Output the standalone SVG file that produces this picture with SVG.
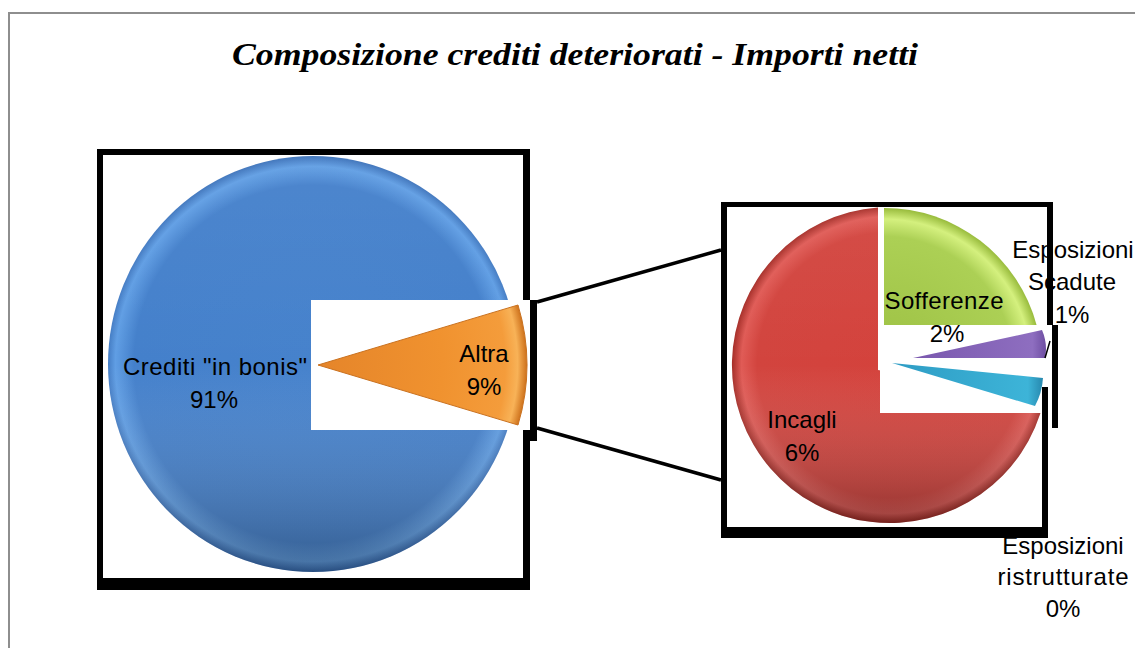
<svg xmlns="http://www.w3.org/2000/svg" width="1135" height="648" viewBox="0 0 1135 648">
<style>
.lbl{font-family:"Liberation Sans",Arial,sans-serif;font-size:24px;fill:#000;text-anchor:middle}
.frm{fill:#000}
.conn{stroke:#000;stroke-width:3.5;fill:none}
</style>
<defs>
<radialGradient id="gBlue" gradientUnits="userSpaceOnUse" cx="313" cy="364" r="208">
<stop offset="0" stop-color="#4682CC"/><stop offset="0.86" stop-color="#4480CB"/><stop offset="0.95" stop-color="#609EE4"/><stop offset="1" stop-color="#3A70B8"/>
</radialGradient>
<radialGradient id="gOrange" gradientUnits="userSpaceOnUse" cx="318" cy="365" r="208">
<stop offset="0" stop-color="#E5852A"/><stop offset="0.6" stop-color="#F0922F"/><stop offset="0.9" stop-color="#F49C3B"/><stop offset="0.96" stop-color="#F8B257"/><stop offset="1" stop-color="#D27822"/>
</radialGradient>
<radialGradient id="gRed" gradientUnits="userSpaceOnUse" cx="890" cy="365" r="158">
<stop offset="0" stop-color="#D4423C"/><stop offset="0.84" stop-color="#D2443E"/><stop offset="0.94" stop-color="#E05B56"/><stop offset="1" stop-color="#A62E28"/>
</radialGradient>
<radialGradient id="gGreen" gradientUnits="userSpaceOnUse" cx="884" cy="366" r="158">
<stop offset="0" stop-color="#9CC043"/><stop offset="0.82" stop-color="#ACD055"/><stop offset="0.93" stop-color="#D4F07E"/><stop offset="1" stop-color="#98BB3C"/>
</radialGradient>
<linearGradient id="gPurple" x1="0" y1="0" x2="1" y2="0">
<stop offset="0" stop-color="#7A58AE"/><stop offset="0.9" stop-color="#8E6EC0"/><stop offset="1" stop-color="#6E4EA2"/>
</linearGradient>
<linearGradient id="gCyan" x1="0" y1="0" x2="1" y2="0">
<stop offset="0" stop-color="#2E9CC4"/><stop offset="0.9" stop-color="#3DB4D8"/><stop offset="1" stop-color="#2788AE"/>
</linearGradient>
<linearGradient id="shade" x1="0" y1="0" x2="0" y2="1">
<stop offset="0" stop-color="#FFFFFF" stop-opacity="0.05"/><stop offset="0.5" stop-color="#FFFFFF" stop-opacity="0"/><stop offset="1" stop-color="#000000" stop-opacity="0.3"/>
</linearGradient>
</defs>

<rect x="0" y="0" width="1135" height="648" fill="#FFFFFF"/>
<path id="outer-border" d="M9,648 L9,13 L1135,13" fill="none" stroke="#8E8E8E" stroke-width="2"/>

<g id="title">
<text x="575" y="65" font-family="'Liberation Serif',serif" font-weight="bold" font-style="italic" font-size="32" text-anchor="middle" textLength="686" lengthAdjust="spacingAndGlyphs">Composizione crediti deteriorati - Importi netti</text>
</g>

<g id="slice-bonis">
<ellipse cx="313" cy="364" rx="205" ry="208" fill="url(#gBlue)"/>
<ellipse cx="313" cy="364" rx="205" ry="208" fill="url(#shade)"/>
<text class="lbl" x="215" y="375" textLength="184">Crediti "in bonis"</text>
<text class="lbl" x="214" y="408">91%</text>
</g>

<g id="slice-altra">
<rect x="311" y="300" width="219" height="130" fill="#FFFFFF"/>
<path d="M318,365 L518,305 A208,208 0 0,1 518,425 Z" fill="url(#gOrange)" stroke="#C9711F" stroke-width="1"/>
<text class="lbl" x="484" y="362">Altra</text>
<text class="lbl" x="484" y="395">9%</text>
</g>

<g id="frame-left">
<rect class="frm" x="97" y="149" width="433" height="6"/>
<rect class="frm" x="97" y="149" width="6" height="441"/>
<rect class="frm" x="97" y="578" width="433" height="12"/>
<rect class="frm" x="523" y="149" width="7" height="151"/>
<rect class="frm" x="523" y="430" width="7" height="160"/>
<rect class="frm" x="530" y="300" width="7" height="141"/>
</g>

<g id="slice-incagli">
<path d="M878,370 L878,207.5 A158,158 0 1,0 1044,400 Z" fill="url(#gRed)"/>
<path d="M878,370 L878,207.5 A158,158 0 1,0 1044,400 Z" fill="url(#shade)"/>
<text class="lbl" x="802" y="428">Incagli</text>
<text class="lbl" x="802" y="461">6%</text>
</g>

<g id="slice-sofferenze">
<path d="M884,325 L884,208 A158,158 0 0,1 1036.6,325 Z" fill="url(#gGreen)"/>
<rect x="880" y="325" width="170" height="88" fill="#FFFFFF"/>
<text class="lbl" x="944" y="309" textLength="119">Sofferenze</text>
<text class="lbl" x="947" y="342">2%</text>
</g>

<g id="slice-scadute">
<path d="M913,358 L1042,330 Q1048,344 1045,358 Z" fill="url(#gPurple)"/>
<line x1="1045" y1="358" x2="1050" y2="341" stroke="#000" stroke-width="1.5"/>
<text class="lbl" x="1073" y="258">Esposizioni</text>
<text class="lbl" x="1072" y="290">Scadute</text>
<text class="lbl" x="1072" y="323">1%</text>
</g>

<g id="slice-ristrutturate">
<path d="M892,363 L1043,378 Q1042,393 1035,406 Z" fill="url(#gCyan)"/>
<text class="lbl" x="1063" y="554">Esposizioni</text>
<text class="lbl" x="1063" y="585" textLength="131">ristrutturate</text>
<text class="lbl" x="1063" y="617">0%</text>
</g>

<g id="frame-right">
<rect class="frm" x="721" y="202" width="332" height="5"/>
<rect class="frm" x="721" y="202" width="6" height="336"/>
<rect class="frm" x="721" y="527" width="327" height="11"/>
<rect class="frm" x="1047" y="202" width="6" height="123"/>
<rect class="frm" x="1052" y="325" width="6" height="103"/>
<rect class="frm" x="1042" y="387" width="6" height="151"/>
</g>

<g id="connectors">
<line class="conn" x1="537" y1="302" x2="721" y2="250"/>
<line class="conn" x1="537" y1="428" x2="721" y2="480"/>
</g>
</svg>
